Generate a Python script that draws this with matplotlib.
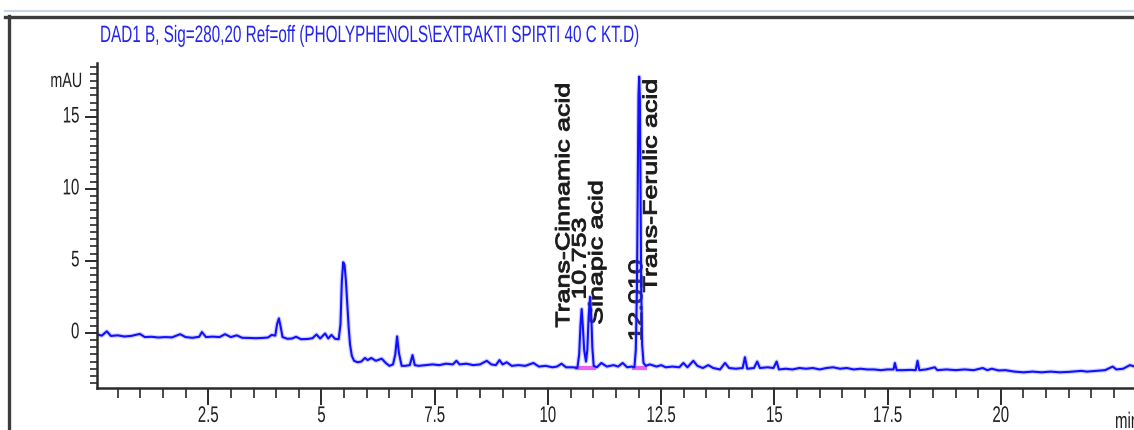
import matplotlib
matplotlib.use("Agg")
import matplotlib.pyplot as plt
import matplotlib.patheffects as pe
from matplotlib.transforms import Affine2D
from matplotlib.ticker import MultipleLocator
from matplotlib.lines import Line2D

plt.rcParams['font.family'] = ['Liberation Sans', 'DejaVu Sans']

title = "DAD1 B, Sig=280,20 Ref=off (PHOLYPHENOLS\\EXTRAKTI SPIRTI 40 C KT.D)"

# retention time (min) and absorbance (mAU)
time_min = [
    0.05, 0.15, 0.26, 0.35, 0.5, 0.65, 0.8, 0.99, 1.1, 1.25, 1.4, 1.55, 1.7, 1.88,
    2.0, 2.15, 2.3, 2.36, 2.45, 2.6, 2.75, 2.87, 3.0, 3.13, 3.25, 3.4, 3.55, 3.7,
    3.82, 3.9, 3.98, 4.02, 4.06, 4.1, 4.14, 4.25, 4.35, 4.44, 4.55, 4.7, 4.8, 4.89,
    4.97, 5.08, 5.15, 5.22, 5.3, 5.38,
    5.42, 5.45, 5.48, 5.51, 5.54, 5.57, 5.6, 5.63, 5.67, 5.72, 5.8, 5.88, 5.96,
    6.02, 6.1, 6.2, 6.33, 6.42, 6.5, 6.58, 6.63, 6.67, 6.71, 6.77, 6.85, 6.95,
    7.01, 7.06, 7.15, 7.3, 7.45, 7.6, 7.75, 7.9, 7.98, 8.05, 8.2, 8.35, 8.5, 8.65,
    8.75, 8.85, 8.93, 9.0, 9.09, 9.2, 9.35, 9.5, 9.68, 9.8, 9.95, 10.1, 10.2, 10.3,
    10.4, 10.55, 10.65,
    10.69, 10.72, 10.745, 10.77, 10.8, 10.84, 10.87, 10.9, 10.93, 10.96, 10.98,
    11.01, 11.08, 11.18, 11.3, 11.45, 11.55, 11.65, 11.75, 11.85, 11.91,
    11.94, 11.965, 11.985, 12.0, 12.015, 12.03, 12.045, 12.06, 12.08, 12.11,
    12.16, 12.25, 12.4, 12.5, 12.6, 12.75, 12.9, 12.99, 13.08, 13.21, 13.3, 13.42,
    13.54, 13.65, 13.8, 13.91, 14.0, 14.15, 14.3, 14.35, 14.4, 14.55, 14.62, 14.68,
    14.85, 14.98, 15.05, 15.1, 15.25, 15.4, 15.55, 15.7, 15.85, 16.0, 16.15, 16.3,
    16.45, 16.6, 16.75, 16.9, 17.05, 17.2, 17.35, 17.5, 17.63, 17.66, 17.7, 17.85,
    18.0, 18.12, 18.16, 18.2, 18.35, 18.54, 18.6, 18.8, 19.0, 19.2, 19.4, 19.6,
    19.7, 19.8, 19.95, 20.1, 20.3, 20.5, 20.7, 20.9, 21.1, 21.3, 21.5, 21.78, 21.9,
    22.1, 22.3, 22.47, 22.55, 22.7, 22.85, 22.95,
]
mau = [
    -0.12, -0.2, 0.1, -0.22, -0.18, -0.26, -0.22, -0.08, -0.3, -0.28, -0.33, -0.3, -0.32, -0.1,
    -0.3, -0.35, -0.28, 0.05, -0.3, -0.27, -0.3, -0.1, -0.3, -0.18, -0.35, -0.36, -0.38, -0.36,
    -0.33, -0.15, -0.2, 0.6, 1.0, 0.4, -0.3, -0.42, -0.4, -0.28, -0.45, -0.43, -0.38, -0.12,
    -0.4, -0.05, -0.4, -0.15, -0.42, -0.45,
    0.6, 3.6, 4.9, 4.7, 3.6, 2.0, 0.4, -0.8, -1.6, -1.95, -2.05, -2.0, -1.75,
    -1.9, -1.75, -1.95, -1.8, -2.1, -2.3, -2.2, -1.5, -0.25, -1.4, -2.3, -2.3, -2.25,
    -1.55, -2.25, -2.3, -2.25, -2.2, -2.25, -2.15, -2.2, -1.95, -2.2, -2.15, -2.25, -2.2, -1.95,
    -2.2, -2.25, -1.9, -2.2, -2.05, -2.3, -2.25, -2.3, -2.1, -2.35, -2.3, -2.4, -2.35, -2.15,
    -2.4, -2.4, -2.45,
    -1.5, 0.6, 1.65, 0.5, -1.2, -2.0, -1.2, 1.2, 2.5, 1.0, -1.0,
    -2.3, -2.4, -2.1, -2.35, -2.25, -2.35, -2.1, -2.4, -2.35, -2.4,
    -1.2, 3.0, 10.5, 16.5, 17.8, 16.2, 9.5, 3.0, -0.8, -2.1,
    -2.3, -2.2, -2.35, -2.25, -2.4, -2.35, -2.4, -2.1, -2.4, -1.95, -2.3, -2.45,
    -2.25, -2.45, -2.55, -2.1, -2.45, -2.5, -2.45, -1.7, -2.5, -2.45, -2.0, -2.45,
    -2.4, -2.45, -2.0, -2.55, -2.5, -2.55, -2.45, -2.5, -2.45, -2.55, -2.45, -2.4,
    -2.5, -2.45, -2.55, -2.5, -2.55, -2.55, -2.6, -2.55, -2.55, -2.1, -2.6, -2.6,
    -2.58, -2.6, -1.95, -2.6, -2.55, -2.4, -2.6, -2.55, -2.6, -2.55, -2.6, -2.45,
    -2.6, -2.5, -2.62, -2.6, -2.7, -2.75, -2.7, -2.75, -2.7, -2.75, -2.72, -2.65, -2.7,
    -2.65, -2.6, -2.35, -2.55, -2.5, -2.25, -2.35,
]

x_ticks = [2.5, 5, 7.5, 10, 12.5, 15, 17.5, 20]
x_tick_labels = ["2.5", "5", "7.5", "10", "12.5", "15", "17.5", "20"]
y_ticks = [0, 5, 10, 15]

# peak labels: retention time, where the text starts (mAU), text
peak_label_x = [10.37, 10.73, 11.1, 11.98, 12.3]
peak_label_y = [0.35, 2.3, 0.55, -0.6, 2.8]
peak_label_text = ["Trans-Cinnamic acid", "10.753", "Sinapic acid", "12.010", "Trans-Ferulic acid"]

# integration baselines under the labelled peaks
base_start = [10.65, 11.9]
base_end = [11.02, 12.14]
base_level = -2.42


class Stretch(pe.AbstractPathEffect):
    # the screenshot is squeezed sideways, so glyphs look tall
    def __init__(self, sy, lw=0.0):
        super().__init__()
        self.sy = sy
        self.lw = lw

    def draw_path(self, renderer, gc, tpath, affine, rgbFace=None):
        x0, y0 = affine.transform((0, 0))
        t = affine + Affine2D().translate(-x0, -y0).scale(1, self.sy).translate(x0, y0)
        gc0 = renderer.new_gc()
        gc0.copy_properties(gc)
        if self.lw and rgbFace is not None:
            gc0.set_linewidth(self.lw)
            gc0.set_foreground(rgbFace)
        renderer.draw_path(gc0, tpath, t, rgbFace)
        gc0.restore()


W, H = 1134, 430
fig = plt.figure(figsize=(W / 100, H / 100), dpi=100)
ax = fig.add_axes([97 / W, 42 / H, (W - 97) / W, (388 - 63) / H])

ax.plot(time_min, mau, color='#7a7aff', lw=3.2, alpha=0.35, zorder=2)
ax.plot(time_min, mau, color='#1010ff', lw=1.5, zorder=2.1)

for s, e in zip(base_start, base_end):
    ax.plot([s, e], [base_level, base_level], color='#f060f0', lw=3, zorder=1.9)

for x, y, s in zip(peak_label_x, peak_label_y, peak_label_text):
    ax.text(x, y, s, rotation=90, ha='center', va='bottom', fontsize=14,
            color='#1a1a1a', zorder=1.5, path_effects=[Stretch(1.38, lw=0.7)])

ax.set_xlim(0.044, 22.94)
ax.set_ylim(-3.84, 18.75)
ax.set_xticks(x_ticks, x_tick_labels)
ax.set_yticks(y_ticks)
ax.xaxis.set_minor_locator(MultipleLocator(0.5))
ax.yaxis.set_minor_locator(MultipleLocator(0.5))
ax.spines[['top', 'right']].set_visible(False)
for sp in ['left', 'bottom']:
    ax.spines[sp].set_color('#2a2a2a')
    ax.spines[sp].set_linewidth(1.8)
ax.tick_params(axis='x', which='major', length=12, width=1.4, color='#2a2a2a', pad=4.5, labelsize=10.8)
ax.tick_params(axis='x', which='minor', length=7, width=1.2, color='#2a2a2a')
ax.tick_params(axis='y', which='major', length=9, width=1.4, color='#2a2a2a', pad=3.6, labelsize=10.8)
ax.tick_params(axis='y', which='minor', length=5, width=1.2, color='#2a2a2a')
for lbl in ax.get_xticklabels() + ax.get_yticklabels():
    lbl.set_path_effects([Stretch(1.5)])
    lbl.set_color('#1e1e1e')

fig.text(82 / W, 1 - 87 / H, "mAU", ha='right', va='baseline', fontsize=10.3,
         color='#1e1e1e', path_effects=[Stretch(1.45)])
fig.text(1115 / W, 1 - 428 / H, "min", ha='left', va='baseline', fontsize=10.8,
         color='#1e1e1e', path_effects=[Stretch(1.5)])
fig.text(100 / W, 1 - 42 / H, title, ha='left', va='baseline', fontsize=11,
         color='#2424f0', path_effects=[Stretch(1.55)])

# window frame of the screenshot
fig.add_artist(Line2D([5 / W, 1], [1 - 10.5 / H] * 2, color='#c9d5e6', lw=1.5))
fig.add_artist(Line2D([5 / W, 1], [1 - 16.5 / H] * 2, color='#3c3c3c', lw=2.4))
fig.add_artist(Line2D([8.5 / W] * 2, [0, 1 - 16 / H], color='#3c3c3c', lw=2.4))

fig.savefig("out.png", dpi=100)
